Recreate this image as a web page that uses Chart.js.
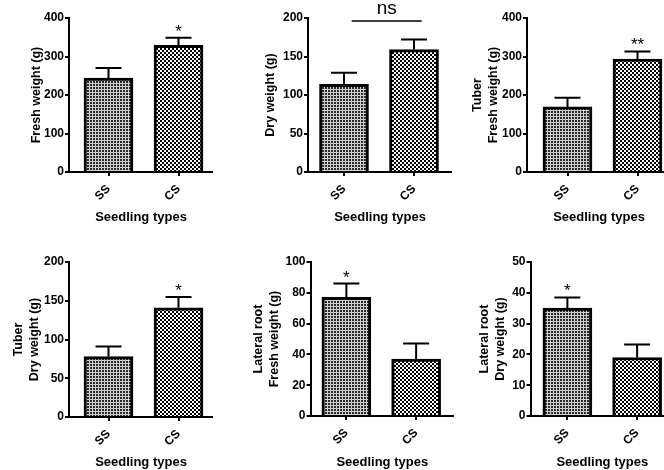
<!DOCTYPE html>
<html>
<head>
<meta charset="utf-8">
<script src="https://cdn.jsdelivr.net/npm/chart.js@4"></script>
<style>
  html, body { margin: 0; padding: 0; background: #fff; }
  #wrap { position: relative; width: 664px; height: 470px; overflow: hidden; }
  #wrap canvas { position: absolute; }
</style>
</head>
<body>
<div id="wrap"></div>
<script>
// categories
const seedlingTypes = ['SS', 'CS'];

// means and SEM
const freshWeight = [244, 329];
const freshWeightSem = [26, 20];
const dryWeight = [114, 159];
const dryWeightSem = [15, 13];
const tuberFresh = [169, 293];
const tuberFreshSem = [24, 20];
const tuberDry = [78, 141];
const tuberDrySem = [13, 14];
const rootFresh = [77, 37];
const rootFreshSem = [9, 10];
const rootDry = [35, 19];
const rootDrySem = [3.5, 4.2];

// significance marks
const sigFresh = ['', '*'];
const sigDry = ['', ''];
const sigTuberFresh = ['', '**'];
const sigTuberDry = ['', '*'];
const sigRootFresh = ['*', ''];
const sigRootDry = ['*', ''];

// y axis ranges [max, step]
const yFresh = [400, 100];
const yDry = [200, 50];
const yTuberFresh = [400, 100];
const yTuberDry = [200, 50];
const yRootFresh = [100, 20];
const yRootDry = [50, 10];

const FONT = "'Liberation Sans', Arial, Helvetica, sans-serif";
Chart.defaults.font.family = FONT;
Chart.defaults.color = '#000';

const panels = [
  { title: ['Fresh weight (g)'], mean: freshWeight, sem: freshWeightSem, sig: sigFresh, y: yFresh },
  { title: ['Dry weight (g)'], mean: dryWeight, sem: dryWeightSem, sig: sigDry, y: yDry, ns: true },
  { title: ['Tuber', 'Fresh weight (g)'], mean: tuberFresh, sem: tuberFreshSem, sig: sigTuberFresh, y: yTuberFresh },
  { title: ['Tuber', 'Dry weight (g)'], mean: tuberDry, sem: tuberDrySem, sig: sigTuberDry, y: yTuberDry },
  { title: ['Lateral root', 'Fresh weight (g)'], mean: rootFresh, sem: rootFreshSem, sig: sigRootFresh, y: yRootFresh },
  { title: ['Lateral root', 'Dry weight (g)'], mean: rootDry, sem: rootDrySem, sig: sigRootDry, y: yRootDry }
];

// where each panel sits (canvas-relative except left/top)
const layouts = [
  { left: 0,   top: 0,   axisX: 69,   topY: 18,   zeroY: 172, lead: 39.5, titleX: 37,   xTitlePad: 10 },
  { left: 220, top: 0,   axisX: 88,   topY: 18,   zeroY: 172, lead: 36,   titleX: 51,   xTitlePad: 10 },
  { left: 440, top: 0,   axisX: 87,   topY: 18,   zeroY: 172, lead: 40.5, titleX: 38,   xTitlePad: 10 },
  { left: 0,   top: 235, axisX: 69,   topY: 27,   zeroY: 182, lead: 39.5, titleX: 18.5, xTitlePad: 0 },
  { left: 220, top: 235, axisX: 90.5, topY: 27,   zeroY: 181, lead: 36,   titleX: 38.5, xTitlePad: 0 },
  { left: 440, top: 235, axisX: 90.5, topY: 27,   zeroY: 181, lead: 37,   titleX: 45,   xTitlePad: 0 }
];
const PANEL_H = 235;
const AXIS_W = 144;
const STEP = 70;

function makePattern(size, cells, dark, light) {
  const c = document.createElement('canvas');
  c.width = size; c.height = size;
  const g = c.getContext('2d');
  g.fillStyle = light;
  g.fillRect(0, 0, size, size);
  g.fillStyle = dark;
  cells.forEach(([x, y, w, h]) => g.fillRect(x, y, w, h));
  return g.createPattern(c, 'repeat');
}
const ssFill = makePattern(3, [[0, 0, 2, 2]], '#2a2a2a', '#d0d0d0');
const csFill = makePattern(4, [[0, 0, 2, 2], [2, 2, 2, 2]], '#000', '#fff');

function errorBarPlugin(p) {
  return {
    id: 'errorBars',
    afterDatasetsDraw(chart) {
      const { ctx, scales: { x, y } } = chart;
      ctx.save();
      ctx.strokeStyle = '#000';
      ctx.fillStyle = '#000';
      ctx.lineWidth = 2;
      p.mean.forEach((m, i) => {
        const cx = x.getPixelForValue(i);
        const y0 = y.getPixelForValue(m);
        const y1 = y.getPixelForValue(m + p.sem[i]);
        ctx.beginPath();
        ctx.moveTo(cx, y0);
        ctx.lineTo(cx, y1);
        ctx.moveTo(cx - 13, y1);
        ctx.lineTo(cx + 13, y1);
        ctx.stroke();
        if (p.sig[i]) {
          ctx.font = '17px ' + FONT;
          ctx.textAlign = 'center';
          ctx.textBaseline = 'alphabetic';
          ctx.fillText(p.sig[i], cx, y1 - 1);
        }
      });
      if (p.ns) {
        const ly = y.getPixelForValue(196);
        ctx.lineWidth = 1.5;
        ctx.beginPath();
        ctx.moveTo(x.getPixelForValue(0.11), ly);
        ctx.lineTo(x.getPixelForValue(1.11), ly);
        ctx.stroke();
        ctx.font = '19px ' + FONT;
        ctx.textAlign = 'center';
        ctx.textBaseline = 'middle';
        ctx.fillText('ns', x.getPixelForValue(0.61), ly - 12);
      }
      ctx.restore();
    }
  };
}

const wrap = document.getElementById('wrap');
panels.forEach((p, k) => {
  const L = layouts[k];
  const cv = document.createElement('canvas');
  cv.width = L.axisX + AXIS_W;
  cv.height = PANEL_H;
  cv.style.left = L.left + 'px';
  cv.style.top = L.top + 'px';
  wrap.appendChild(cv);
  const xMin = -L.lead / STEP;

  new Chart(cv.getContext('2d'), {
    type: 'bar',
    data: {
      datasets: [{
        data: p.mean.map((v, i) => ({ x: i, y: v })),
        backgroundColor: [ssFill, csFill],
        borderColor: '#000',
        borderWidth: 3,
        barThickness: 49
      }]
    },
    options: {
      responsive: false,
      animation: false,
      devicePixelRatio: 1,
      layout: { padding: { left: 0, right: 0, top: L.topY, bottom: 0 } },
      plugins: { legend: { display: false }, tooltip: { enabled: false } },
      scales: {
        x: {
          type: 'linear',
          offset: false,
          min: xMin,
          max: xMin + AXIS_W / STEP,
          afterBuildTicks: s => { s.ticks = seedlingTypes.map((_, i) => ({ value: i })); },
          afterFit: s => { s.height = PANEL_H - L.zeroY; s.paddingLeft = 0; s.paddingRight = 0; },
          ticks: {
            autoSkip: false,
            minRotation: 45,
            maxRotation: 45,
            padding: 6,
            color: '#000',
            font: { size: 12, weight: 'bold' },
            callback: v => seedlingTypes[v]
          },
          grid: { offset: false, drawOnChartArea: false, tickLength: 4, color: '#000', lineWidth: 2 },
          border: { color: '#000', width: 2 },
          title: {
            display: true,
            text: 'Seedling types',
            color: '#000',
            font: { size: 13, weight: 'bold' },
            padding: { top: 0, bottom: L.xTitlePad }
          }
        },
        y: {
          min: 0,
          max: p.y[0],
          afterFit: s => { s.width = L.axisX; s.paddingTop = 0; s.paddingBottom = 0; },
          ticks: {
            stepSize: p.y[1],
            padding: 1,
            color: '#000',
            font: { size: 12, weight: 'bold' }
          },
          grid: { drawOnChartArea: false, tickLength: 4, color: '#000', lineWidth: 2 },
          border: { color: '#000', width: 2 },
          title: {
            display: true,
            text: p.title,
            color: '#000',
            font: { size: 12.5, weight: 'bold', lineHeight: 1.28 },
            padding: { top: L.titleX - 8, bottom: 0 }
          }
        }
      }
    },
    plugins: [errorBarPlugin(p)]
  });
});
</script>
</body>
</html>
